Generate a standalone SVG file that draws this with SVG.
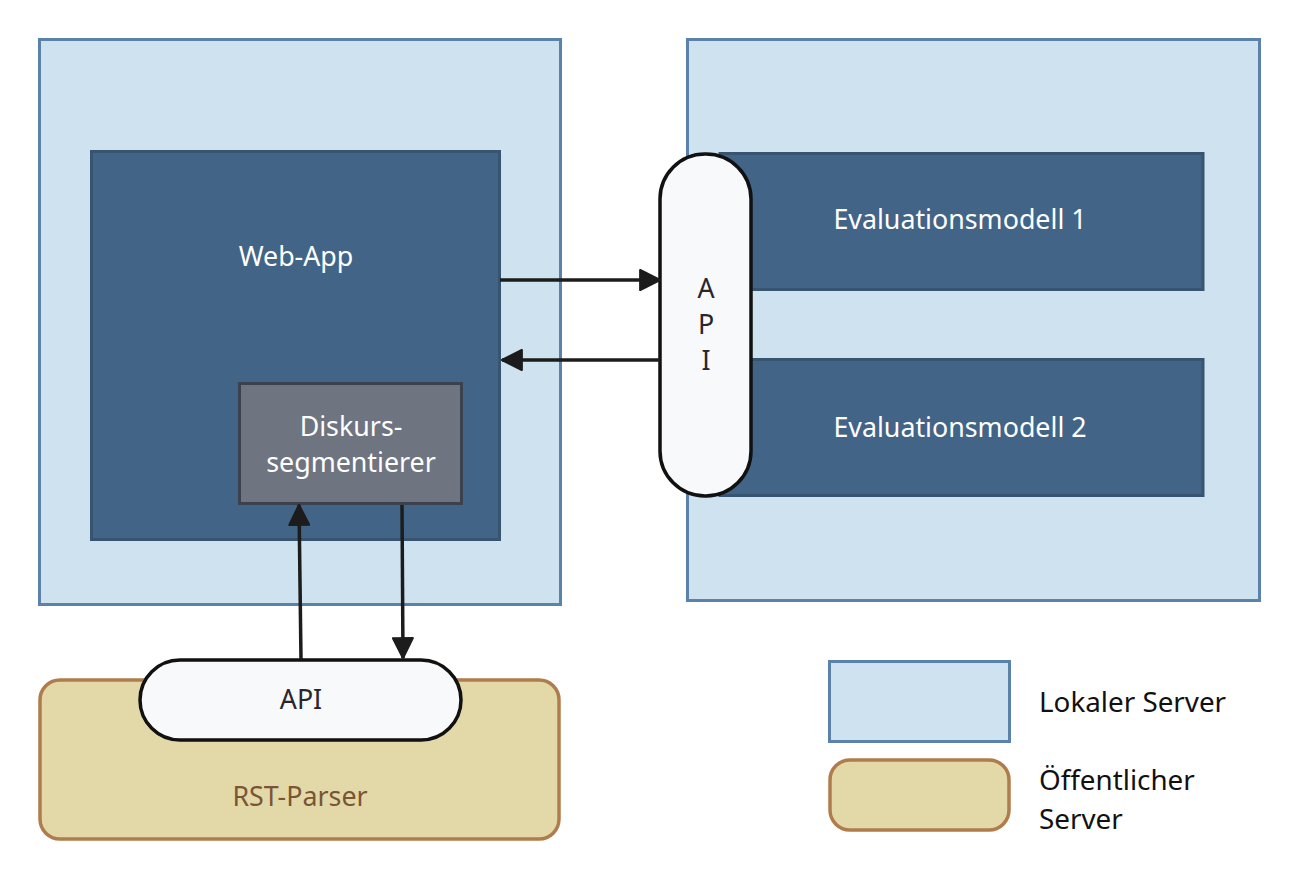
<svg xmlns="http://www.w3.org/2000/svg" width="1300" height="881" viewBox="0 0 1300 881">
<defs>
<style>
.local{fill:#cfe2ef;stroke:#5a82ab;stroke-width:3}
.pub{fill:#e3d9a8;stroke:#b07c4c;stroke-width:3.5}
.app{fill:#426487;stroke:#375470;stroke-width:3}
.seg{fill:#6e7480;stroke:#3b414d;stroke-width:3}
.api{fill:#f7f9fb;stroke:#111;stroke-width:3.5}
.conn{stroke:#1c1c1c;stroke-width:3.5;fill:none}
text{font-family:"Noto Sans","Open Sans","DejaVu Sans",sans-serif;font-size:26.8px;text-anchor:middle}
.w{fill:#ffffff}
.d{fill:#2a2630}
.b{fill:#7a5535}
.lg{fill:#111;text-anchor:start;font-size:27.8px}
</style>
<marker id="a2" viewBox="0 0 20 20" refX="19" refY="10" markerWidth="22" markerHeight="22" orient="auto" markerUnits="userSpaceOnUse">
<path d="M1,1 L19,10 L1,19 z" fill="#1c1c1c" stroke="#1c1c1c" stroke-width="2" stroke-linejoin="round"/>
</marker>
</defs>
<g id="lokal-links"><rect class="local" x="39.5" y="39.5" width="521" height="565"/></g>
<g id="lokal-rechts"><rect class="local" x="687.5" y="39.5" width="572" height="561"/></g>
<g id="rst-parser"><rect class="pub" x="40" y="680" width="519" height="159" rx="20"/><text class="b" x="300" y="806">RST-Parser</text></g>
<g id="web-app"><rect class="app" x="91.5" y="151.5" width="408" height="388"/><text class="w" x="296" y="266">Web-App</text></g>
<g id="diskurs"><rect class="seg" x="239.5" y="383.5" width="222" height="120"/><text class="w" x="351" y="436">Diskurs-</text><text class="w" x="351" y="472">segmentierer</text></g>
<g id="eval1"><rect class="app" x="720" y="153.5" width="483" height="136"/><text class="w" x="960" y="229">Evaluationsmodell 1</text></g>
<g id="eval2"><rect class="app" x="720" y="359.5" width="483" height="136"/><text class="w" x="960" y="437">Evaluationsmodell 2</text></g>
<g id="api-rechts"><rect class="api" x="660" y="154" width="91" height="342" rx="45"/><text class="d" x="706" y="298">A</text><text class="d" x="706" y="334">P</text><text class="d" x="706" y="370">I</text></g>
<g id="api-unten"><rect class="api" x="140" y="660" width="321" height="80" rx="40"/><text class="d" x="301" y="709">API</text></g>
<g id="connectors">
<line class="conn" x1="500" y1="280" x2="660" y2="280" marker-end="url(#a2)"/>
<line class="conn" x1="660" y1="360" x2="502" y2="360" marker-end="url(#a2)"/>
<line class="conn" x1="301" y1="659" x2="299" y2="505" marker-end="url(#a2)"/>
<line class="conn" x1="402" y1="505" x2="403" y2="658" marker-end="url(#a2)"/>
</g>
<g id="legende">
<rect class="local" x="829.5" y="661.5" width="180" height="80"/>
<rect class="pub" x="830" y="760" width="179" height="70" rx="20"/>
<text class="lg" x="1039" y="712">Lokaler Server</text>
<text class="lg" x="1039" y="790">Öffentlicher</text>
<text class="lg" x="1039" y="829">Server</text>
</g>
</svg>
